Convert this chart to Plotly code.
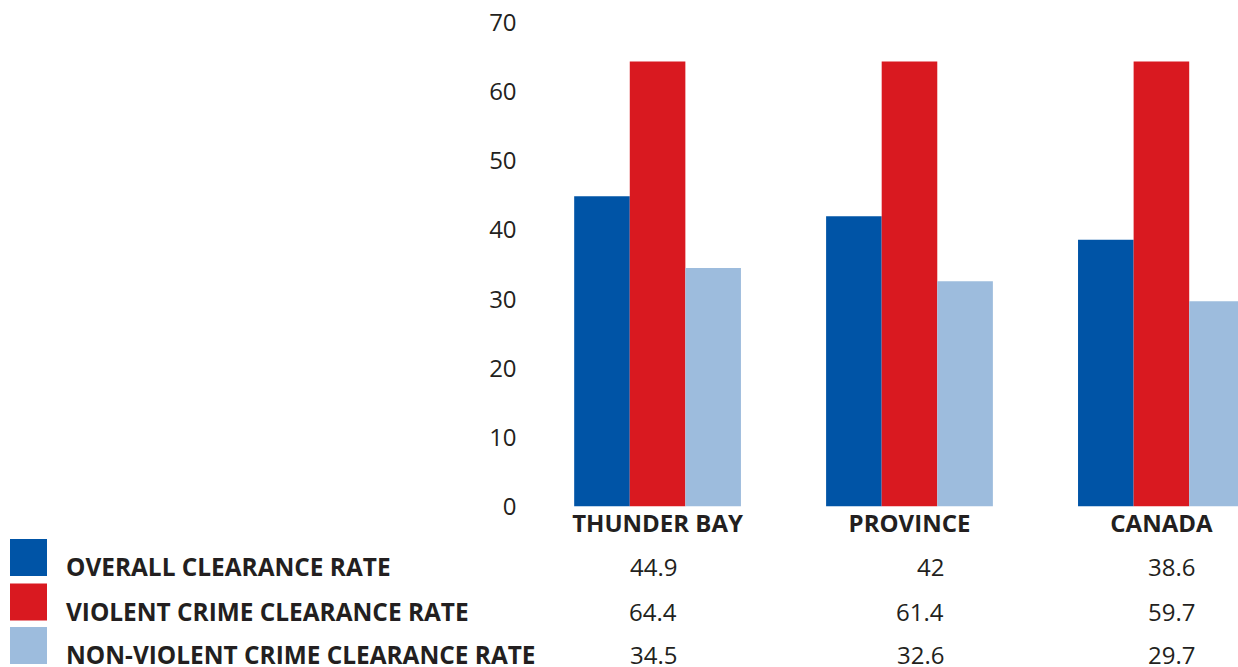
import plotly.graph_objects as go

categories = ["THUNDER BAY", "PROVINCE", "CANADA"]
series_names = ["OVERALL CLEARANCE RATE", "VIOLENT CRIME CLEARANCE RATE", "NON-VIOLENT CRIME CLEARANCE RATE"]
# table values (printed under the chart)
overall = [44.9, 42, 38.6]
violent = [64.4, 61.4, 59.7]
non_violent = [34.5, 32.6, 29.7]
# bar heights as drawn in the reference picture
overall_bars = [44.9, 42, 38.6]
violent_bars = [64.4, 64.4, 64.4]
non_violent_bars = [34.5, 32.6, 29.7]
y_ticks = [0, 10, 20, 30, 40, 50, 60, 70]

colors = ["#0054A6", "#D91920", "#9DBCDD"]
text_color = "#231F20"
W, H = 1238, 667

fig = go.Figure()
for name, vals, col in zip(series_names, [overall_bars, violent_bars, non_violent_bars], colors):
    fig.add_trace(go.Bar(x=categories, y=vals, name=name, marker=dict(color=col, line=dict(width=0)),
                         showlegend=False, hoverinfo="y"))

x0_px = 531.6
fig.update_layout(
    template="none",
    width=W, height=H,
    margin=dict(l=0, r=0, t=0, b=0, autoexpand=False),
    paper_bgcolor="white", plot_bgcolor="white",
    barmode="group", bargap=0.338, bargroupgap=0,
    font=dict(family="Open Sans", color=text_color),
    xaxis=dict(domain=[x0_px / W, 1], range=[-0.5, 2.304], showgrid=False, showline=False, zeroline=False,
               automargin=False, ticks="",
               tickfont=dict(size=24, family="Open Sans", weight="bold", color=text_color),
               ticklabelstandoff=0),
    yaxis=dict(domain=[1 - 506.5 / H, 1 - 22.7 / H], range=[0, 70], tickvals=y_ticks, showgrid=False,
               automargin=False, ticks="",
               showline=False, zeroline=False, tickfont=dict(size=24, color=text_color),
               ticklabelstandoff=14),
)

# table below chart
row_y = [566.5, 611, 654.5]
col_right = [679, 946, 1196.5]
for i, (name, vals, col) in enumerate(zip(series_names, [overall, violent, non_violent], colors)):
    yc = 1 - row_y[i] / H
    top = row_y[i] - 27.5
    fig.add_shape(type="rect", xref="paper", yref="paper",
                  x0=10 / W, x1=47 / W, y0=1 - top / H, y1=1 - (top + 37) / H,
                  fillcolor=col, line=dict(width=0))
    fig.add_annotation(xref="paper", yref="paper", x=64 / W, y=yc, xanchor="left", yanchor="middle",
                       text=name, showarrow=False,
                       font=dict(size=24.4, family="Open Sans", weight="bold", color=text_color))
    for j, v in enumerate(vals):
        fig.add_annotation(xref="paper", yref="paper", x=col_right[j] / W, y=yc, xanchor="right", yanchor="middle",
                           text=f"{v:g}", showarrow=False, font=dict(size=24, color=text_color))

fig.write_html("out.html")
